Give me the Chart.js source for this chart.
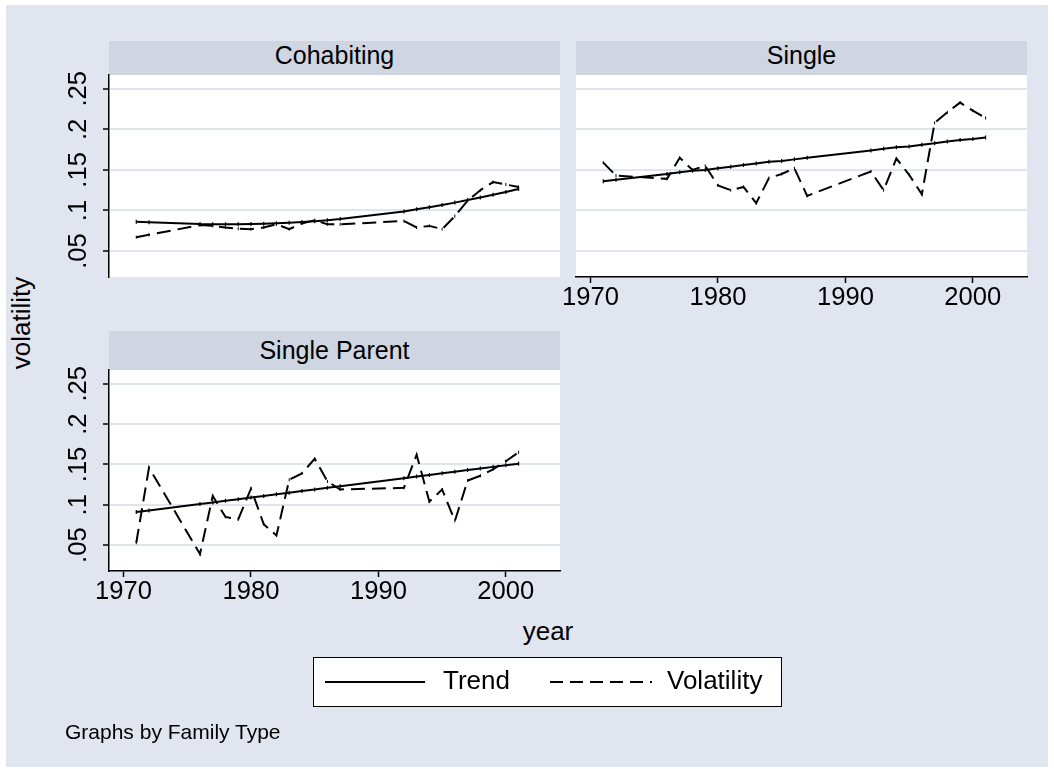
<!DOCTYPE html>
<html>
<head>
<meta charset="utf-8">
<script src="https://cdn.jsdelivr.net/npm/chart.js@4"></script>
<style>
  html, body { margin: 0; padding: 0; background: #ffffff; }
  #root { position: relative; width: 1054px; height: 769px; overflow: hidden; font-family: 'Liberation Sans', Arial, sans-serif; color: #000; }
  #bg { position: absolute; left: 6px; top: 5px; width: 1042px; height: 762px; background: #e0e5ef; }
  .strip { position: absolute; background: #cfd6e2; text-align: center; font-size: 25px; white-space: nowrap; }
  .txt { position: absolute; white-space: nowrap; }
  canvas { position: absolute; }
</style>
</head>
<body>
<div id="root">
  <div id="bg"></div>
  <div class="strip" style="left:109px;top:41px;width:451px;height:34px;line-height:28px;">Cohabiting</div>
  <div class="strip" style="left:576px;top:41px;width:451px;height:34px;line-height:28px;">Single</div>
  <div class="strip" style="left:109px;top:331px;width:451px;height:39px;line-height:38px;">Single Parent</div>

  <canvas id="c1" width="530" height="240" style="left:40px;top:60px;"></canvas>
  <canvas id="c2" width="490" height="260" style="left:550px;top:60px;"></canvas>
  <canvas id="c3" width="530" height="260" style="left:40px;top:355px;"></canvas>

  <div class="txt" style="left:-29px;top:308px;width:100px;height:30px;line-height:30px;font-size:26px;text-align:center;transform:rotate(-90deg);">volatility</div>
  <div class="txt" style="left:448px;top:616px;width:200px;line-height:30px;font-size:26px;text-align:center;">year</div>

  <div style="position:absolute;left:313px;top:657px;width:467px;height:48px;background:#fff;border:1px solid #000;"></div>
  <svg style="position:absolute;left:0;top:0;" width="1054" height="769">
    <line x1="325" y1="682" x2="425" y2="682" stroke="#000" stroke-width="2"/>
    <line x1="550" y1="682" x2="652" y2="682" stroke="#000" stroke-width="2" stroke-dasharray="13 7"/>
  </svg>
  <div class="txt" style="left:443px;top:665px;line-height:30px;font-size:26px;">Trend</div>
  <div class="txt" style="left:667px;top:665px;line-height:30px;font-size:26px;">Volatility</div>

  <div class="txt" style="left:65px;top:719px;line-height:26px;font-size:21px;">Graphs by Family Type</div>
</div>

<script>
// ---- data ----
const years = [1971, 1972, 1976, 1977, 1978, 1979, 1980, 1981, 1982, 1983, 1984, 1985, 1986, 1987,
               1992, 1993, 1994, 1995, 1996, 1997, 1998, 1999, 2000, 2001];

const cohabitingVolatility = [0.067, 0.070, 0.082, 0.081, 0.079, 0.0775, 0.077, 0.079, 0.083, 0.077, 0.084, 0.088, 0.083, 0.083,
                              0.087, 0.079, 0.081, 0.077, 0.093, 0.112, 0.125, 0.135, 0.132, 0.129];
const cohabitingTrend = [0.086, 0.0855, 0.0832, 0.083, 0.083, 0.083, 0.0833, 0.0837, 0.0842, 0.0849, 0.0858, 0.0868, 0.088, 0.0895,
                         0.0988, 0.1014, 0.104, 0.1068, 0.1097, 0.1128, 0.116, 0.1194, 0.1229, 0.1265];

const singleVolatility = [0.159, 0.143, 0.139, 0.165, 0.150, 0.155, 0.131, 0.125, 0.129, 0.109, 0.140, 0.145, 0.152, 0.118,
                          0.148, 0.125, 0.164, 0.144, 0.120, 0.208, 0.221, 0.233, 0.223, 0.214];
const singleTrend = [0.136, 0.138, 0.145, 0.147, 0.149, 0.150, 0.152, 0.154, 0.156, 0.158, 0.160, 0.161, 0.163, 0.165,
                     0.174, 0.176, 0.178, 0.179, 0.181, 0.183, 0.185, 0.187, 0.188, 0.190];

const singleParentVolatility = [0.053, 0.146, 0.039, 0.111, 0.085, 0.082, 0.120, 0.076, 0.062, 0.131, 0.139, 0.157, 0.129, 0.119,
                                0.121, 0.162, 0.104, 0.119, 0.080, 0.130, 0.136, 0.144, 0.154, 0.165];
const singleParentTrend = [0.091, 0.093, 0.101, 0.103, 0.105, 0.107, 0.109, 0.111, 0.113, 0.115, 0.117, 0.119, 0.121, 0.123,
                           0.133, 0.135, 0.137, 0.139, 0.141, 0.143, 0.145, 0.147, 0.149, 0.151];

const xTicks = [1970, 1980, 1990, 2000];
const yTicks = [0.05, 0.10, 0.15, 0.20, 0.25];
const yTickLabels = ['.05', '.1', '.15', '.2', '.25'];

// ---- drawing ----
const TICK_FONT = { family: "'Liberation Sans Narrow', 'Arial Narrow', 'Liberation Sans', sans-serif", size: 25.6 };
const GRID_COLOR = '#dfe4ee';

const plotBg = {
  id: 'plotBg',
  beforeDraw(chart) {
    const { ctx, chartArea: a } = chart;
    ctx.save();
    ctx.fillStyle = '#ffffff';
    ctx.fillRect(a.left, a.top, a.right - a.left, a.bottom - a.top);
    ctx.restore();
  }
};

function pts(vals) { return years.map((yr, i) => ({ x: yr, y: vals[i] })); }

function makePanel(id, trend, vol, o) {
  return new Chart(document.getElementById(id), {
    type: 'line',
    data: {
      datasets: [
        { label: 'Trend', data: pts(trend), borderColor: '#000', borderWidth: 2, tension: 0,
          pointStyle: 'line', rotation: 90, pointRadius: 2, pointBorderWidth: 1.2, pointBorderColor: '#000' },
        { label: 'Volatility', data: pts(vol), borderColor: '#000', borderWidth: 2, borderDash: [14, 7], tension: 0,
          pointStyle: 'line', rotation: 90, pointRadius: 1.5, pointBorderWidth: 1, pointBorderColor: '#000' }
      ]
    },
    options: {
      responsive: false, animation: false, devicePixelRatio: 1,
      layout: { padding: o.padding },
      plugins: { legend: { display: false }, tooltip: { enabled: false }, title: { display: false } },
      scales: {
        x: {
          type: 'linear', min: 1968.86, max: 2004.25,
          display: o.showX,
          afterBuildTicks: s => { s.ticks = xTicks.map(v => ({ value: v })); },
          afterFit: s => { if (o.xHeight) s.height = o.xHeight; s.paddingLeft = 0; s.paddingRight = 0; },
          ticks: { color: '#000', font: TICK_FONT, padding: 0, maxRotation: 0, autoSkip: false,
                   callback: v => String(v) },
          grid: { display: true, drawOnChartArea: false, drawTicks: true, tickLength: 6,
                  tickColor: '#000', tickWidth: 1.5 },
          border: { display: true, color: '#000', width: 1.5 }
        },
        y: {
          type: 'linear', min: 0.018, max: 0.267,
          afterBuildTicks: s => { s.ticks = yTicks.map(v => ({ value: v })); },
          afterFit: s => { s.width = o.yWidth; s.paddingTop = 0; s.paddingBottom = 0; },
          ticks: { display: o.showYLabels, color: '#000', font: TICK_FONT, padding: 6,
                   minRotation: 90, maxRotation: 90, crossAlign: 'center', autoSkip: false,
                   callback: v => { const i = yTicks.findIndex(t => Math.abs(t - v) < 1e-9); return i >= 0 ? yTickLabels[i] : ''; } },
          grid: { color: GRID_COLOR, lineWidth: 2, drawTicks: o.showYAxis, tickLength: 6,
                  tickColor: '#000', tickWidth: 1.5 },
          border: { display: o.showYAxis, color: '#000', width: 1.5 }
        }
      }
    },
    plugins: [plotBg]
  });
}

makePanel('c1', cohabitingTrend, cohabitingVolatility,
  { padding: { left: 0, top: 15, right: 10, bottom: 23 }, showX: false, showYLabels: true, showYAxis: true, yWidth: 69 });
makePanel('c2', singleTrend, singleVolatility,
  { padding: { left: 0, top: 15, right: 13, bottom: 0 }, showX: true, xHeight: 43, showYLabels: false, showYAxis: false, yWidth: 26 });
makePanel('c3', singleParentTrend, singleParentVolatility,
  { padding: { left: 0, top: 15, right: 10, bottom: 0 }, showX: true, xHeight: 44, showYLabels: true, showYAxis: true, yWidth: 69 });
</script>
</body>
</html>
